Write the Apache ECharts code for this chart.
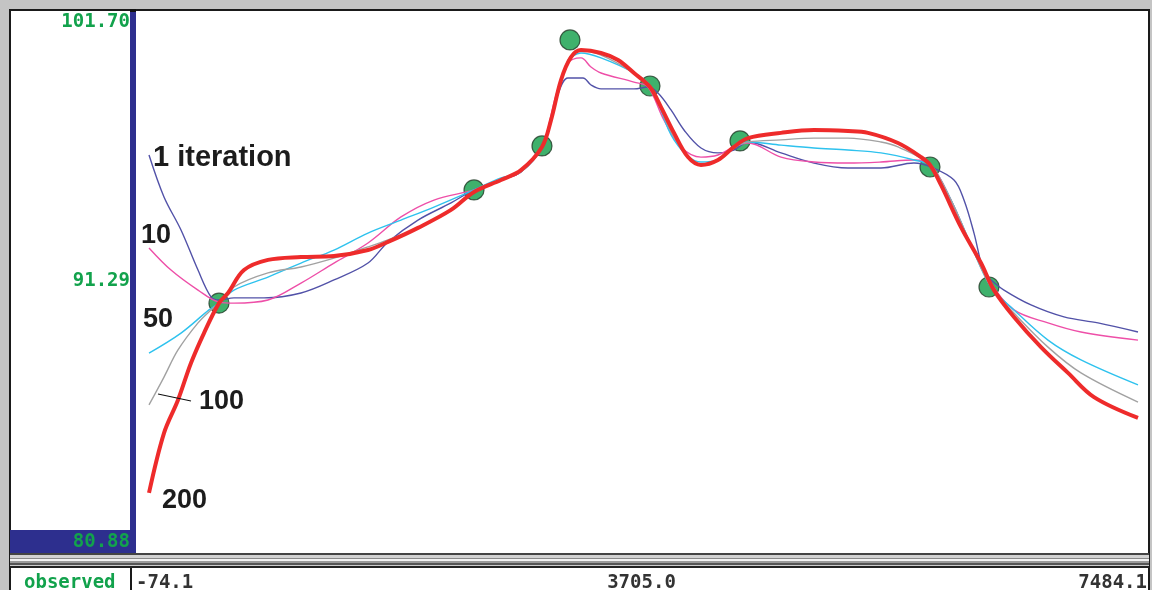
<!DOCTYPE html>
<html>
<head>
    <title>Smoothing iterations</title>
    <script src="https://cdn.jsdelivr.net/npm/echarts@6/dist/echarts.min.js"></script>
    <style>
        html, body { margin: 0; padding: 0; background: #c4c4c4; }
    </style>
</head>
<body>
    <div id="main" style="width: 1152px; height: 590px;"></div>

    <script>
        // axis ranges and tick labels
        const xRange = [-74.1, 7484.1];
        const yRange = [80.88, 101.70];
        const xTicks = [-74.1, 3705.0, 7484.1];
        const yTicks = [80.88, 91.29, 101.70];

        // observed points
        const observed = [
            [546.4, 90.44], [2452.8, 94.79], [2961.1, 96.48], [3170.4, 100.55],
            [3768.5, 98.78], [4441.3, 96.67], [5861.8, 95.67], [6302.8, 91.06]
        ];

        // 1 iteration
        const iter1 = [
            [23.1, 96.13], [135.2, 94.52], [262.3, 93.25], [389.4, 91.71], [486.6, 90.68],
            [546.4, 90.56], [658.5, 90.64], [882.8, 90.64], [1159.4, 90.83], [1406.1, 91.33],
            [1660.3, 91.98], [1809.8, 92.79], [2034.1, 93.63], [2280.8, 94.29], [2452.8, 94.79],
            [2654.6, 95.17], [2804.1, 95.48], [2961.1, 96.44], [3065.8, 98.24], [3155.5, 99.09],
            [3267.6, 99.09], [3327.4, 98.82], [3402.2, 98.67], [3648.9, 98.67], [3753.6, 98.74],
            [3828.3, 98.51], [3925.5, 97.86], [4022.7, 97.09], [4149.8, 96.40], [4276.9, 96.21],
            [4396.5, 96.32], [4501.1, 96.63], [4747.9, 96.21], [4994.6, 95.82], [5248.7, 95.63],
            [5495.4, 95.63], [5742.2, 95.82], [5869.2, 95.67], [6041.2, 95.17], [6115.9, 94.40],
            [6190.7, 93.13], [6265.5, 91.60], [6317.8, 91.33], [6415.0, 90.94], [6616.8, 90.37],
            [6863.5, 89.91], [7117.7, 89.68], [7416.8, 89.33]
        ];

        // 10 iterations
        const iter10 = [
            [23.1, 92.56], [187.6, 91.71], [389.4, 90.94], [546.4, 90.48], [658.5, 90.44],
            [912.7, 90.56], [1159.4, 91.21], [1406.1, 91.98], [1660.3, 92.75], [1907.0, 93.75],
            [2153.7, 94.40], [2452.8, 94.79], [2654.6, 95.17], [2804.1, 95.48], [2961.1, 96.44],
            [3065.8, 98.43], [3155.5, 99.66], [3252.7, 99.86], [3327.4, 99.51], [3402.2, 99.28],
            [3648.9, 98.93], [3753.6, 98.74], [3873.2, 97.47], [4000.3, 96.44], [4149.8, 96.05],
            [4276.9, 96.13], [4396.5, 96.44], [4501.1, 96.59], [4747.9, 96.05], [4994.6, 95.86],
            [5248.7, 95.82], [5495.4, 95.86], [5742.2, 95.94], [5869.2, 95.75], [6018.8, 94.40],
            [6168.3, 92.67], [6317.8, 91.21], [6489.7, 90.18], [6743.9, 89.68], [6990.6, 89.33],
            [7416.8, 89.02]
        ];

        // 50 iterations
        const iter50 = [
            [23.1, 88.52], [262.3, 89.29], [471.6, 90.18], [546.4, 90.44], [658.5, 90.94],
            [912.7, 91.44], [1159.4, 91.98], [1406.1, 92.48], [1660.3, 93.13], [1907.0, 93.63],
            [2153.7, 94.13], [2452.8, 94.79], [2654.6, 95.25], [2804.1, 95.48], [2961.1, 96.44],
            [3065.8, 98.24], [3155.5, 99.70], [3252.7, 100.05], [3402.2, 99.86], [3648.9, 99.28],
            [3776.0, 98.74], [3947.9, 96.71], [4149.8, 95.86], [4276.9, 95.94], [4396.5, 96.40],
            [4501.1, 96.63], [4747.9, 96.51], [4994.6, 96.40], [5248.7, 96.32], [5495.4, 96.21],
            [5742.2, 95.94], [5869.2, 95.71], [6018.8, 94.40], [6168.3, 92.67], [6317.8, 91.06],
            [6489.7, 90.18], [6743.9, 89.02], [6990.6, 88.26], [7416.8, 87.30]
        ];

        // 100 iterations
        const iter100 = [
            [23.1, 86.53], [135.2, 87.60], [239.9, 88.64], [389.4, 89.68], [486.6, 90.18],
            [546.4, 90.44], [658.5, 91.06], [912.7, 91.60], [1159.4, 91.83], [1406.1, 92.17],
            [1660.3, 92.60], [1809.8, 92.87], [2034.1, 93.33], [2280.8, 94.02], [2452.8, 94.75],
            [2654.6, 95.21], [2804.1, 95.48], [2961.1, 96.44], [3065.8, 98.24], [3155.5, 99.78],
            [3252.7, 100.13], [3402.2, 99.97], [3648.9, 99.28], [3776.0, 98.74], [3947.9, 96.82],
            [4149.8, 95.78], [4276.9, 95.94], [4396.5, 96.44], [4501.1, 96.63], [4747.9, 96.71],
            [4994.6, 96.78], [5248.7, 96.78], [5495.4, 96.63], [5622.5, 96.44], [5869.2, 95.71],
            [6018.8, 94.40], [6168.3, 92.67], [6317.8, 91.06], [6489.7, 90.06], [6743.9, 88.75],
            [6990.6, 87.76], [7416.8, 86.64]
        ];

        // 200 iterations
        const iter200 = [
            [23.1, 83.15], [135.2, 85.45], [239.9, 86.72], [337.1, 88.14], [434.3, 89.29],
            [546.4, 90.44], [613.7, 90.83], [733.3, 91.71], [912.7, 92.10], [1159.4, 92.21],
            [1406.1, 92.25], [1660.3, 92.48], [1809.8, 92.79], [2034.1, 93.33], [2280.8, 94.02],
            [2452.8, 94.71], [2654.6, 95.17], [2804.1, 95.55], [2961.1, 96.44], [3028.4, 97.47],
            [3103.2, 99.01], [3177.9, 99.89], [3252.7, 100.16], [3402.2, 100.05], [3529.3, 99.78],
            [3648.9, 99.28], [3768.5, 98.74], [3850.7, 97.97], [3947.9, 96.98], [4052.6, 96.05],
            [4149.8, 95.75], [4276.9, 95.94], [4396.5, 96.44], [4501.1, 96.78], [4747.9, 96.98],
            [4994.6, 97.09], [5248.7, 97.05], [5398.3, 96.98], [5622.5, 96.59], [5794.5, 96.05],
            [5861.8, 95.75], [5944.0, 94.98], [6093.5, 93.36], [6243.0, 91.98], [6340.2, 90.94],
            [6489.7, 89.91], [6691.6, 88.75], [6893.4, 87.76], [7087.8, 86.83], [7416.8, 86.03]
        ];

        const monoFont = 'DejaVu Sans Mono';
        const green = '#12a24c';
        const navy = '#2d2f8e';

        function thinLine(name, data, color) {
            return {
                name: name,
                type: 'line',
                data: data,
                smooth: 0.35,
                showSymbol: false,
                lineStyle: { color: color, width: 1.4 },
                z: 3
            };
        }

        function label(text, x, y, size) {
            return {
                type: 'text', left: x, top: y, z: 20,
                style: {
                    text: text, fill: '#1c1c1c',
                    font: 'bold ' + size + 'px "Liberation Sans", Arial, sans-serif'
                }
            };
        }

        const yLabelStyle = { color: green, fontFamily: monoFont, fontWeight: 'bold', fontSize: 19 };

        const stripes = [
            [553, 2, '#444444'], [555, 3, '#d2d2d2'], [558, 1, '#8a8a8a'], [559, 2, '#f2f2f2'],
            [561, 2, '#9a9a9a'], [563, 2, '#555555'], [565, 1, '#cccccc'], [566, 2, '#222222']
        ];

        const option = {
            animation: false,
            backgroundColor: '#c4c4c4',
            grid: { left: 136, right: 5, top: 10, bottom: 38, outerBoundsMode: 'none' },
            xAxis: {
                type: 'value',
                min: xRange[0],
                max: xRange[1],
                axisLine: { show: false },
                axisTick: { show: false },
                splitLine: { show: false },
                axisLabel: {
                    customValues: xTicks,
                    margin: 14,
                    color: '#333',
                    fontFamily: monoFont,
                    fontWeight: 'bold',
                    fontSize: 19,
                    alignMinLabel: 'left',
                    alignMaxLabel: 'right',
                    formatter: v => v.toFixed(1)
                }
            },
            yAxis: {
                type: 'value',
                min: yRange[0],
                max: yRange[1],
                axisLine: { show: false },
                axisTick: { show: false },
                splitLine: { show: false },
                axisLabel: {
                    customValues: yTicks,
                    margin: 6,
                    ...yLabelStyle,
                    formatter: v => {
                        const s = v.toFixed(2);
                        if (v === yRange[1]) return '{top|' + s + '}';
                        if (v === yRange[0]) return '{bot|' + s + '}';
                        return '{mid|' + s + '}';
                    },
                    rich: {
                        top: { ...yLabelStyle, padding: [25, 0, 0, 0] },
                        mid: { ...yLabelStyle },
                        bot: { ...yLabelStyle, padding: [0, 0, 20, 0] }
                    }
                }
            },
            graphic: [
                // frame and panels
                { type: 'rect', z: -10, shape: { x: 10, y: 10, width: 1139, height: 600 },
                  style: { fill: '#ffffff', stroke: '#1a1a1a', lineWidth: 2 } },
                { type: 'rect', z: -5, shape: { x: 10, y: 530, width: 126, height: 23 },
                  style: { fill: navy } },
                { type: 'rect', z: -5, shape: { x: 130, y: 10, width: 6, height: 543 },
                  style: { fill: navy } },
                { type: 'rect', z: -4, shape: { x: 130, y: 9, width: 6, height: 3 },
                  style: { fill: '#111' } },
                ...stripes.map(s => ({
                    type: 'rect', z: -4, shape: { x: 10, y: s[0], width: 1139, height: s[1] },
                    style: { fill: s[2] }
                })),
                { type: 'rect', z: -4, shape: { x: 130, y: 568, width: 2, height: 22 },
                  style: { fill: '#1a1a1a' } },
                { type: 'text', z: 5, left: 24, top: 566,
                  style: { text: 'observed', fill: green,
                           font: 'bold 19px "DejaVu Sans Mono", monospace' } },
                // curve labels
                label('1 iteration', 153, 133, 29),
                label('10', 141, 212, 27),
                label('50', 143, 296, 27),
                label('100', 199, 378, 27),
                label('200', 162, 477, 27),
                { type: 'line', z: 20, shape: { x1: 158, y1: 394, x2: 191, y2: 401 },
                  style: { stroke: '#111', lineWidth: 1.2 } }
            ],
            series: [
                {
                    name: 'observed',
                    type: 'scatter',
                    data: observed,
                    symbolSize: 20,
                    itemStyle: { color: '#0f9e47', borderColor: '#1f3a26', borderWidth: 1.2 },
                    z: 2
                },
                thinLine('1 iteration', iter1, '#5252a8'),
                thinLine('10', iter10, '#ee4fa8'),
                thinLine('50', iter50, '#2ec2ee'),
                thinLine('100', iter100, '#a2a2a2'),
                {
                    name: '200',
                    type: 'line',
                    data: iter200,
                    smooth: 0.35,
                    showSymbol: false,
                    lineStyle: { color: '#ee2b2b', width: 4 },
                    z: 4
                }
            ]
        };

        const chart = echarts.init(document.getElementById('main'));
        chart.setOption(option);
    </script>
</body>
</html>
